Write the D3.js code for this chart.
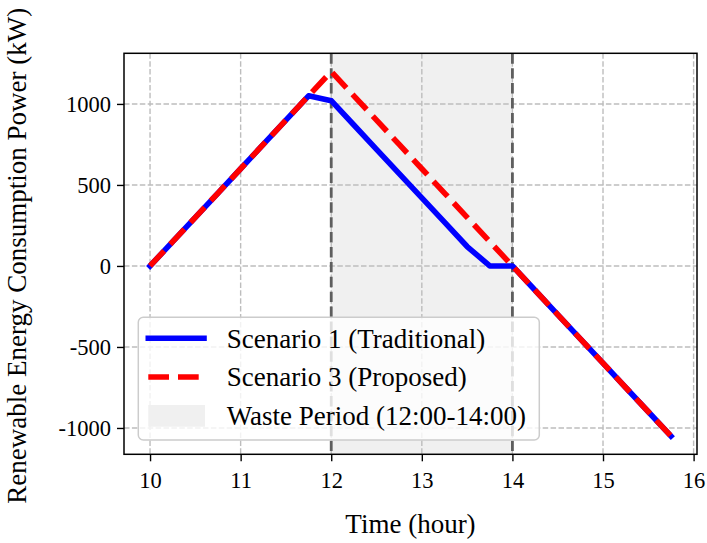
<!DOCTYPE html>
<html>
<head>
<meta charset="utf-8">
<script src="https://cdn.jsdelivr.net/npm/d3@7"></script>
<style>
  html, body { margin: 0; padding: 0; background: #fff; }
  svg { display: block; font-family: "Liberation Serif", "Times New Roman", serif; }
</style>
</head>
<body>
<svg id="chart" width="707" height="543"></svg>
<script>
// ---- data ----
const times = [10, 10.25, 10.5, 10.75, 11, 11.25, 11.5, 11.75, 12, 12.25, 12.5, 12.75,
               13, 13.25, 13.5, 13.75, 14, 14.25, 14.5, 14.75, 15, 15.25, 15.5, 15.75];
const scenario1 = [0, 150, 300, 450, 600, 750, 900, 1050, 1020, 870, 720, 570,
                   420, 270, 120, 0, 0, -150, -300, -450, -600, -750, -900, -1050];
const scenario3 = [0, 150, 300, 450, 600, 750, 900, 1050, 1200, 1050, 900, 750,
                   600, 450, 300, 150, 0, -150, -300, -450, -600, -750, -900, -1050];
const xTicks = [10, 11, 12, 13, 14, 15, 16];
const yTicks = [-1000, -500, 0, 500, 1000];
const wastePeriod = [12, 14];
const seriesNames = ["Scenario 1 (Traditional)", "Scenario 3 (Proposed)", "Waste Period (12:00-14:00)"];
const xLabel = "Time (hour)";
const yLabel = "Renewable Energy Consumption Power (kW)";

// ---- layout ----
const L = 124, R = 697, T = 53.3, B = 454.3;
const FONT = "Liberation Serif, Times New Roman, serif";
const svg = d3.select("#chart");

const xExt = d3.extent(times);
const xPad = (xExt[1] - xExt[0]) * 0.05;
const yMin = d3.min([...scenario1, ...scenario3]);
const yMax = d3.max([...scenario1, ...scenario3]);
const yPad = (yMax - yMin) * 0.05;

const x = d3.scaleLinear().domain([xExt[0] - xPad, xExt[1] + xPad]).range([L, R]);
const y = d3.scaleLinear().domain([yMin - yPad, yMax + yPad]).range([B, T]);

// shaded waste period
svg.append("rect")
  .attr("x", x(wastePeriod[0])).attr("y", T)
  .attr("width", x(wastePeriod[1]) - x(wastePeriod[0])).attr("height", B - T)
  .attr("fill", "#f0f0f0");

// grid
const grid = svg.append("g").attr("stroke", "#bdbdbd").attr("stroke-width", 1.4)
  .attr("stroke-dasharray", "5.5,2.4").attr("fill", "none");
xTicks.forEach(t => grid.append("line").attr("x1", x(t)).attr("x2", x(t)).attr("y1", T).attr("y2", B));
yTicks.forEach(t => grid.append("line").attr("x1", L).attr("x2", R).attr("y1", y(t)).attr("y2", y(t)));

// vertical markers
wastePeriod.forEach(t => svg.append("line")
  .attr("x1", x(t)).attr("x2", x(t)).attr("y1", T).attr("y2", B)
  .attr("stroke", "#5e5e5e").attr("stroke-width", 2.8)
  .attr("stroke-dasharray", "10.4,4.5"));

// lines
const line = d3.line().x((d, i) => x(times[i])).y(d => y(d));
svg.append("path").datum(scenario1).attr("d", line)
  .attr("fill", "none").attr("stroke", "#0000ff").attr("stroke-width", 5.6)
  .attr("stroke-linejoin", "round").attr("stroke-linecap", "square");
svg.append("path").datum(scenario3).attr("d", line)
  .attr("fill", "none").attr("stroke", "#ff0000").attr("stroke-width", 5.6)
  .attr("stroke-linejoin", "round").attr("stroke-linecap", "butt")
  .attr("stroke-dasharray", "20.7,9");

// frame
svg.append("rect").attr("x", L).attr("y", T).attr("width", R - L).attr("height", B - T)
  .attr("fill", "none").attr("stroke", "#000").attr("stroke-width", 1.5);

// axes
const xAxis = svg.append("g").attr("transform", `translate(0,${B})`)
  .call(d3.axisBottom(x).tickValues(xTicks).tickFormat(d3.format("d")).tickSize(7).tickPadding(6));
const yAxis = svg.append("g").attr("transform", `translate(${L},0)`)
  .call(d3.axisLeft(y).tickValues(yTicks).tickFormat(d => String(d)).tickSize(7).tickPadding(6));
[xAxis, yAxis].forEach(a => {
  a.attr("font-family", FONT).attr("font-size", 22.5);
  a.select(".domain").remove();
  a.selectAll(".tick line").attr("stroke", "#000").attr("stroke-width", 1.4);
  a.selectAll(".tick text").attr("fill", "#000");
});
xAxis.selectAll(".tick text").attr("dy", "0.9em");

// axis labels
svg.append("text").attr("x", (L + R) / 2).attr("y", 533)
  .attr("text-anchor", "middle").attr("font-family", FONT).attr("font-size", 27).attr("fill", "#000").text(xLabel);
svg.append("text").attr("transform", `translate(26,${(T + B) / 2 + 2}) rotate(-90)`)
  .attr("text-anchor", "middle").attr("font-family", FONT).attr("font-size", 27).attr("fill", "#000").text(yLabel);

// legend
const lg = svg.append("g").attr("font-family", FONT);
lg.append("rect").attr("x", 138.3).attr("y", 317.3).attr("width", 401).attr("height", 122.7)
  .attr("rx", 5).attr("fill", "#fff").attr("fill-opacity", 0.8)
  .attr("stroke", "#cccccc").attr("stroke-width", 1.5);
const rows = [338.3, 377, 416];
lg.append("line").attr("x1", 148.3).attr("x2", 204).attr("y1", rows[0]).attr("y2", rows[0])
  .attr("stroke", "#0000ff").attr("stroke-width", 5.6).attr("stroke-linecap", "square");
lg.append("line").attr("x1", 148.3).attr("x2", 206).attr("y1", rows[1]).attr("y2", rows[1])
  .attr("stroke", "#ff0000").attr("stroke-width", 5.6).attr("stroke-dasharray", "20.7,9");
lg.append("rect").attr("x", 148.3).attr("y", 405).attr("width", 56.7).attr("height", 21.7)
  .attr("fill", "#f0f0f0");
seriesNames.forEach((s, i) => lg.append("text")
  .attr("x", 226.7).attr("y", rows[i]).attr("dy", "0.35em")
  .attr("font-size", 27).attr("fill", "#000").text(s));
</script>
</body>
</html>
